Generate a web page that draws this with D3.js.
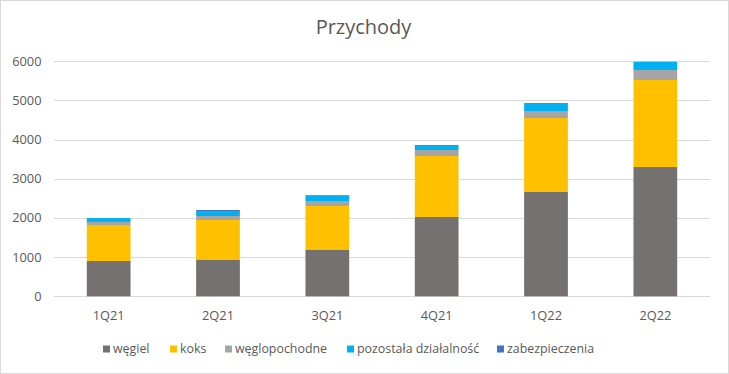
<!DOCTYPE html>
<html><head><meta charset="utf-8">
<script src="https://cdn.jsdelivr.net/npm/d3@7"></script>
<style>html,body{margin:0;padding:0;background:#fff;}svg{display:block;font-family:"Open Sans","Liberation Sans",Arial,sans-serif;}</style>
</head><body><svg id="c" width="729" height="374"></svg>
<script>
const categories = ["1Q21","2Q21","3Q21","4Q21","1Q22","2Q22"];
const seriesNames = ["węgiel","koks","węglopochodne","pozostała działalność","zabezpieczenia"];
const wegiel = [901, 927, 1182, 2025, 2663, 3301];
const koks = [902, 1021, 1123, 1557, 1889, 2221];
const weglopochodne = [95, 102, 128, 153, 179, 255];
const pozostala = [100, 128, 136, 128, 204, 213];
const zabezpieczenia = [0, 25, 17, 0, 0, 0];
const yTicks = [0, 1000, 2000, 3000, 4000, 5000, 6000];
const colors = ["#767171", "#FFC000", "#A5A5A5", "#00B0F0", "#4472C4"];
const legendX = [103, 170, 225, 347, 497];

const svg = d3.select("#c");
const W = 729, H = 374;
svg.append("rect").attr("x",0.5).attr("y",0.5).attr("width",W-1).attr("height",H-1)
  .attr("fill","#fff").attr("stroke","#D9D9D9");

const x = d3.scaleBand().domain(categories).range([54, 710]).paddingInner(0.6).paddingOuter(0.3);
const y = d3.scaleLinear().domain([0, 6000]).range([296.3, 61.3]);

svg.append("g").selectAll("line").data(yTicks).join("line")
  .attr("x1",54).attr("x2",710).attr("y1",d=>Math.round(y(d))+0.5).attr("y2",d=>Math.round(y(d))+0.5)
  .attr("stroke","#D9D9D9").attr("stroke-width",1);

const fs = 12.8;
svg.append("g").selectAll("text").data(yTicks).join("text")
  .attr("x",41.5).attr("y",d=>y(d)).attr("dy","0.35em").attr("text-anchor","end")
  .attr("font-size",fs).attr("fill","#595959").text(d=>d);

const rows = categories.map((c,i)=>({cat:c, s0:wegiel[i], s1:koks[i], s2:weglopochodne[i], s3:pozostala[i], s4:zabezpieczenia[i]}));
const stack = d3.stack().keys(["s0","s1","s2","s3","s4"])(rows);

svg.append("g").selectAll("g").data(stack).join("g").attr("fill",(d,i)=>colors[i])
  .selectAll("rect").data(d=>d).join("rect")
  .attr("x",d=>x(d.data.cat)).attr("width",x.bandwidth())
  .attr("y",d=>y(d[1])).attr("height",d=>Math.max(0,y(d[0])-y(d[1])));

svg.append("g").selectAll("text").data(categories).join("text")
  .attr("x",d=>x(d)+x.bandwidth()/2).attr("y",315.5).attr("dy","0.35em").attr("text-anchor","middle")
  .attr("font-size",fs).attr("fill","#595959").text(d=>d);

svg.append("text").attr("x",363.5).attr("y",27).attr("dy","0.35em").attr("text-anchor","middle")
  .attr("font-size",20).attr("fill","#595959").text("Przychody");

const lg = svg.append("g").selectAll("g").data(seriesNames).join("g")
  .attr("transform",(d,i)=>`translate(${legendX[i]},349)`);
lg.append("rect").attr("x",0).attr("y",-3.5).attr("width",7).attr("height",7).attr("fill",(d,i)=>colors[i]);
lg.append("text").attr("x",10).attr("y",0).attr("dy","0.35em").attr("font-size",12.4).attr("fill","#595959").text(d=>d);
</script></body></html>
